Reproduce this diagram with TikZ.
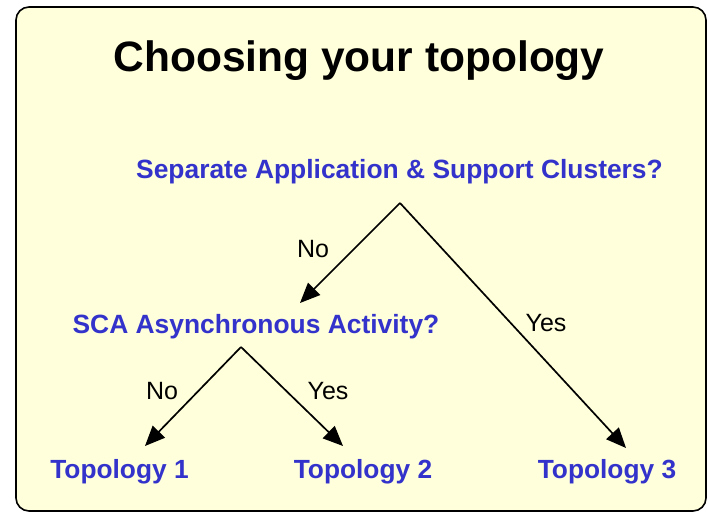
\documentclass[tikz,border=0pt]{standalone}
\usepackage{fontspec}
\setmainfont{Liberation Sans}
\usetikzlibrary{arrows.meta}
\definecolor{qblue}{RGB}{51,51,204}
\definecolor{paper}{RGB}{255,255,220}
\tikzset{
  title/.style={font=\bfseries\fontsize{42.5}{48}\selectfont, anchor=base, inner sep=0pt},
  question/.style={font=\bfseries\fontsize{26.4}{30}\selectfont, text=qblue, anchor=base, inner sep=0pt},
  answer/.style={font=\bfseries\fontsize{26.3}{30}\selectfont, text=qblue, anchor=base, inner sep=0pt},
  lbl/.style={font=\fontsize{25}{28}\selectfont, anchor=base, inner sep=0pt},
  branch/.style={line width=1.7pt, -{Triangle[length=20pt,width=17pt]}}
}
\begin{document}
\begin{tikzpicture}[x=1pt,y=-1pt]
\useasboundingbox (0,0) rectangle (708,513);
\draw[fill=paper, line width=1.6pt, rounded corners=13pt] (16,7) rectangle (706,511);

\node[title] (t) at (359,72) {Choosing your topology};
\node[question] (q1) at (399.5,178) {Separate Application \& Support Clusters?};
\node[question] (q2) at (256,333) {SCA Asynchronous Activity?};
\node[answer] (t1) at (119.5,478) {Topology 1};
\node[answer] (t2) at (363,478) {Topology 2};
\node[answer] (t3) at (607,478) {Topology 3};

\coordinate (a1) at (400,203);
\coordinate (e1) at (300,303);
\coordinate (e3) at (626,448);
\coordinate (a2) at (241,347);
\coordinate (e21) at (145,446);
\coordinate (e22) at (343,446);

\draw[branch] (a1) -- (e1);
\draw[branch] (a1) -- (e3);
\draw[branch] (a2) -- (e21);
\draw[branch] (a2) -- (e22);

\node[lbl] (n1) at (313,257) {No};
\node[lbl] (y1) at (546,331) {Yes};
\node[lbl] (n2) at (162,399) {No};
\node[lbl] (y2) at (328,399) {Yes};
\end{tikzpicture}
\end{document}
